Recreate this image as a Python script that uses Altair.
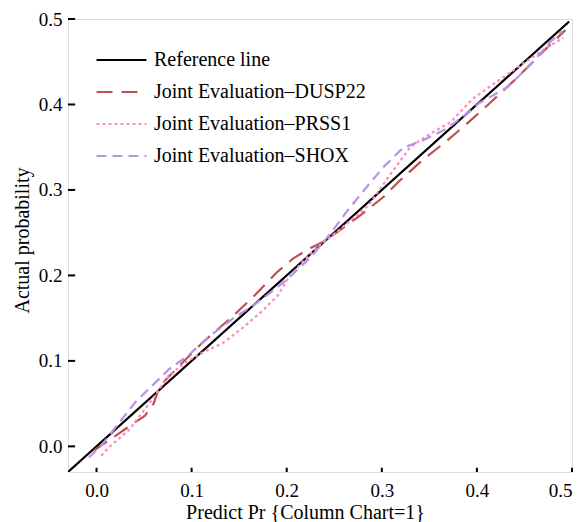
import altair as alt
import pandas as pd

# ---------------- data ----------------
series_names = [
    "Reference line",
    "Joint Evaluation\u2013DUSP22",
    "Joint Evaluation\u2013PRSS1",
    "Joint Evaluation\u2013SHOX",
]

ref_x = [-0.03, 0.497]
ref_y = [-0.03, 0.497]

dusp_x = [-0.003, 0.013, 0.039, 0.051, 0.060, 0.065, 0.072, 0.086, 0.095, 0.112,
          0.141, 0.165, 0.190, 0.207, 0.225, 0.238, 0.256, 0.277, 0.302, 0.319,
          0.343, 0.369, 0.391, 0.414, 0.442, 0.466, 0.493]
dusp_y = [-0.005, 0.007, 0.027, 0.036, 0.050, 0.066, 0.077, 0.093, 0.103, 0.122,
          0.150, 0.175, 0.204, 0.220, 0.232, 0.239, 0.253, 0.270, 0.292, 0.311,
          0.335, 0.358, 0.379, 0.402, 0.431, 0.458, 0.487]

prss_x = [0.005, 0.013, 0.034, 0.058, 0.076, 0.096, 0.112, 0.133, 0.154, 0.175,
          0.191, 0.200, 0.215, 0.232, 0.253, 0.286, 0.312, 0.330, 0.351, 0.372,
          0.396, 0.424, 0.449, 0.474, 0.491]
prss_y = [-0.011, -0.001, 0.019, 0.054, 0.083, 0.100, 0.110, 0.121, 0.139, 0.159,
          0.177, 0.194, 0.214, 0.233, 0.251, 0.282, 0.323, 0.350, 0.366, 0.379,
          0.407, 0.429, 0.448, 0.467, 0.478]

shox_x = [-0.008, 0.005, 0.041, 0.076, 0.096, 0.120, 0.144, 0.165, 0.190, 0.199,
          0.225, 0.246, 0.264, 0.286, 0.302, 0.322, 0.343, 0.369, 0.391, 0.403,
          0.432, 0.456, 0.477, 0.490]
shox_y = [-0.013, 0.001, 0.052, 0.090, 0.106, 0.130, 0.150, 0.165, 0.186, 0.194,
          0.221, 0.249, 0.276, 0.306, 0.327, 0.349, 0.358, 0.372, 0.391, 0.402,
          0.420, 0.446, 0.473, 0.486]

x_ticks = [0.0, 0.1, 0.2, 0.3, 0.4, 0.5]
y_ticks = [0.0, 0.1, 0.2, 0.3, 0.4, 0.5]

colors = ["#000000", "#C0504D", "#FF8AC8", "#B792E8"]
dashes = [[1, 0], [16, 9], [3, 3], [10, 6]]

# ---------------- tables ----------------
rows = []
for name, xs, ys in zip(series_names,
                        [ref_x, dusp_x, prss_x, shox_x],
                        [ref_y, dusp_y, prss_y, shox_y]):
    for i, (a, b) in enumerate(zip(xs, ys)):
        rows.append({"series": name, "x": a, "y": b, "i": i})
df = pd.DataFrame(rows)

DMIN, DMAX = -0.03, 0.5
xtick_df = pd.DataFrame({"x": x_ticks, "y": [DMIN] * len(x_ticks),
                         "y2": [DMIN + 0.005] * len(x_ticks)})
ytick_df = pd.DataFrame({"y": y_ticks, "x": [DMIN] * len(y_ticks),
                         "x2": [DMIN + 0.0075] * len(y_ticks)})

FONT = "Liberation Serif"
xscale = alt.Scale(domain=[DMIN, DMAX], nice=False, zero=False)
yscale = alt.Scale(domain=[DMIN, DMAX], nice=False, zero=False)

x_axis = alt.Axis(values=x_ticks, format=".1f", title="Predict Pr {Column Chart=1}",
                  ticks=False, domain=False, grid=False,
                  labelFont=FONT, labelFontSize=19, labelColor="black", labelPadding=9,
                  titleFont=FONT, titleFontSize=20, titleFontWeight="normal",
                  titleColor="black", titleX=237, titleY=46, titleAlign="center",
                  titleBaseline="alphabetic")
y_axis = alt.Axis(values=y_ticks, format=".1f", title="Actual probability",
                  ticks=False, domain=False, grid=False,
                  labelFont=FONT, labelFontSize=19, labelColor="black", labelPadding=6,
                  titleFont=FONT, titleFontSize=20, titleFontWeight="normal",
                  titleColor="black", titleX=-40, titleY=221, titleAlign="center",
                  titleAngle=270, titleBaseline="alphabetic")

legend = alt.Legend(title=None, orient="none", legendX=27, legendY=31,
                    symbolType="stroke", symbolSize=2500, symbolStrokeWidth=2.2,
                    clipHeight=20, rowPadding=12, labelFont=FONT, labelFontSize=20,
                    labelColor="black", labelOffset=6, padding=0, labelLimit=400)

lines = alt.Chart(df).mark_line(strokeWidth=2.2, clip=True).encode(
    x=alt.X("x:Q", scale=xscale, axis=x_axis),
    y=alt.Y("y:Q", scale=yscale, axis=y_axis),
    color=alt.Color("series:N", scale=alt.Scale(domain=series_names, range=colors),
                    legend=legend),
    strokeDash=alt.StrokeDash("series:N",
                              scale=alt.Scale(domain=series_names, range=dashes),
                              legend=legend),
    order=alt.Order("i:Q"),
)

xticks = alt.Chart(xtick_df).mark_rule(color="black", strokeWidth=2).encode(
    x=alt.X("x:Q", scale=xscale, axis=x_axis),
    y=alt.Y("y:Q", scale=yscale, axis=y_axis),
    y2="y2:Q",
)
yticks = alt.Chart(ytick_df).mark_rule(color="black", strokeWidth=2).encode(
    x=alt.X("x:Q", scale=xscale, axis=x_axis),
    x2="x2:Q",
    y=alt.Y("y:Q", scale=yscale, axis=y_axis),
)

chart = alt.layer(lines, xticks, yticks).properties(
    width=504, height=453,
    autosize=alt.AutoSizeParams(type="none"),
    padding={"left": 68, "top": 19, "right": 15, "bottom": 50},
    background="white",
).configure_view(
    stroke="black", strokeWidth=2.8
).configure_axis(
    labelFont=FONT, titleFont=FONT, labelFontSize=19, labelColor="black"
).configure(font=FONT)

chart.save("out.html", embed_options={"renderer": "svg", "actions": False})
